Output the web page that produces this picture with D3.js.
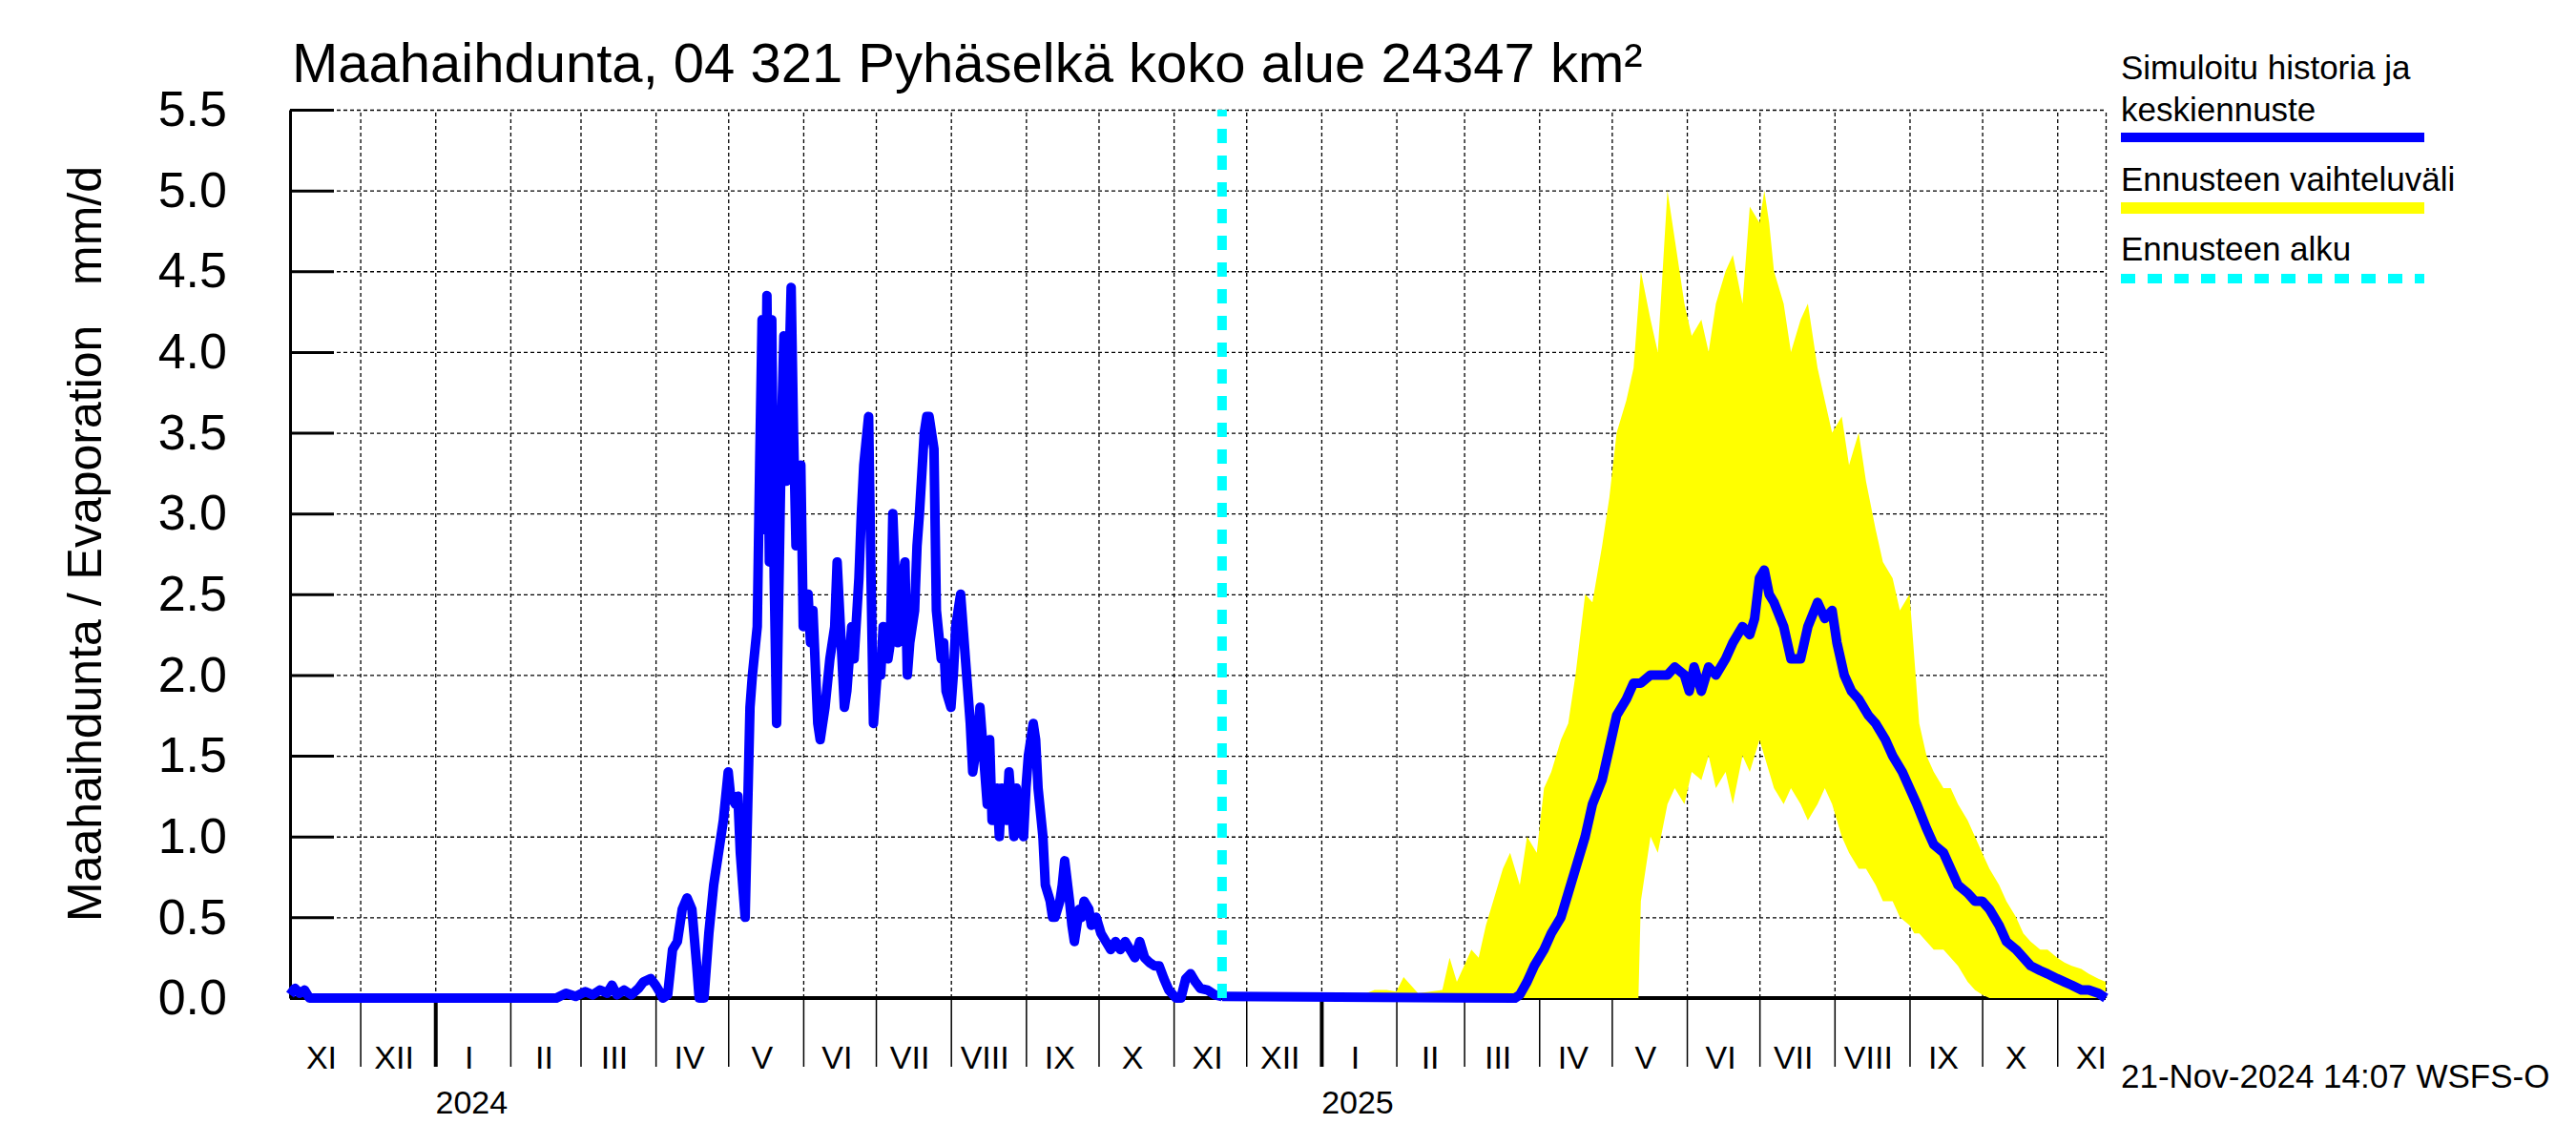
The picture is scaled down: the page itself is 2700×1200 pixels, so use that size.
<!DOCTYPE html>
<html>
<head>
<meta charset="utf-8">
<script src="https://cdn.jsdelivr.net/npm/d3@7"></script>
<style>
  body { margin: 0; background: #fff; }
  text { font-family: "Liberation Sans", Arial, sans-serif; }
</style>
</head>
<body>
<div id="chart"></div>
<script>
/* Data */
const titleText = "Maahaihdunta, 04 321 Pyhäselkä koko alue 24347 km²";
const yLabel = "Maahaihdunta / Evaporation   mm/d";
const stamp = "21-Nov-2024 14:07 WSFS-O";
const romanMonths = ["I", "II", "III", "IV", "V", "VI", "VII", "VIII", "IX", "X", "XI", "XII"];
const yTicks = [0, 0.5, 1, 1.5, 2, 2.5, 3, 3.5, 4, 4.5, 5, 5.5];
const xStart = "2023-11-02", xEnd = "2025-11-21", forecastStart = "2024-11-21";

// simulated history (blue)
const simulated = [
  ["2023-11-02",0.02],["2023-11-04",0.06],["2023-11-06",0.03],["2023-11-08",0.05],["2023-11-10",0.0],
  ["2024-02-20",0.0],["2024-02-24",0.03],["2024-02-28",0.01],["2024-03-03",0.04],["2024-03-06",0.02],
  ["2024-03-09",0.05],["2024-03-12",0.03],["2024-03-14",0.08],["2024-03-16",0.02],["2024-03-19",0.05],
  ["2024-03-22",0.02],["2024-03-25",0.06],["2024-03-27",0.1],["2024-03-30",0.12],["2024-04-01",0.08],
  ["2024-04-03",0.03],["2024-04-04",0.0],["2024-04-06",0.02],["2024-04-08",0.3],["2024-04-10",0.35],
  ["2024-04-12",0.55],["2024-04-14",0.62],["2024-04-16",0.55],["2024-04-18",0.2],["2024-04-19",0.0],
  ["2024-04-21",0.0],["2024-04-23",0.4],["2024-04-25",0.7],["2024-04-27",0.9],["2024-04-29",1.1],
  ["2024-05-01",1.4],["2024-05-02",1.25],["2024-05-04",1.2],["2024-05-05",1.25],["2024-05-06",0.9],
  ["2024-05-08",0.5],["2024-05-10",1.8],["2024-05-11",2.0],["2024-05-13",2.3],["2024-05-14",3.3],
  ["2024-05-15",4.2],["2024-05-16",2.9],["2024-05-17",4.35],["2024-05-18",2.7],["2024-05-19",4.2],
  ["2024-05-20",2.6],["2024-05-21",1.7],["2024-05-23",3.5],["2024-05-24",4.1],["2024-05-25",3.2],
  ["2024-05-27",4.4],["2024-05-28",3.5],["2024-05-29",2.8],["2024-05-31",3.3],["2024-06-01",2.3],
  ["2024-06-03",2.5],["2024-06-04",2.2],["2024-06-05",2.4],["2024-06-07",1.7],["2024-06-08",1.6],
  ["2024-06-10",1.8],["2024-06-12",2.1],["2024-06-14",2.3],["2024-06-15",2.7],["2024-06-17",2.1],
  ["2024-06-18",1.8],["2024-06-19",1.9],["2024-06-21",2.3],["2024-06-22",2.1],["2024-06-24",2.6],
  ["2024-06-25",3.0],["2024-06-26",3.3],["2024-06-28",3.6],["2024-06-29",2.6],["2024-06-30",1.7],
  ["2024-07-02",2.1],["2024-07-03",2.0],["2024-07-04",2.3],["2024-07-06",2.1],["2024-07-07",2.2],
  ["2024-07-08",3.0],["2024-07-10",2.2],["2024-07-11",2.5],["2024-07-13",2.7],["2024-07-14",2.0],
  ["2024-07-15",2.2],["2024-07-17",2.4],["2024-07-18",2.8],["2024-07-19",3.0],["2024-07-21",3.5],
  ["2024-07-22",3.6],["2024-07-23",3.6],["2024-07-25",3.4],["2024-07-26",2.4],["2024-07-28",2.1],
  ["2024-07-29",2.2],["2024-07-30",1.9],["2024-08-01",1.8],["2024-08-02",2.0],["2024-08-03",2.3],
  ["2024-08-05",2.5],["2024-08-06",2.3],["2024-08-07",2.1],["2024-08-09",1.7],["2024-08-10",1.4],
  ["2024-08-12",1.6],["2024-08-13",1.8],["2024-08-14",1.6],["2024-08-16",1.2],["2024-08-17",1.6],
  ["2024-08-18",1.1],["2024-08-20",1.3],["2024-08-21",1.0],["2024-08-22",1.3],["2024-08-24",1.1],
  ["2024-08-25",1.4],["2024-08-27",1.0],["2024-08-28",1.3],["2024-08-29",1.1],["2024-08-31",1.0],
  ["2024-09-01",1.3],["2024-09-02",1.5],["2024-09-04",1.7],["2024-09-05",1.6],["2024-09-06",1.3],
  ["2024-09-08",1.0],["2024-09-09",0.7],["2024-09-11",0.6],["2024-09-12",0.5],["2024-09-13",0.5],
  ["2024-09-15",0.6],["2024-09-16",0.7],["2024-09-17",0.85],["2024-09-19",0.6],["2024-09-20",0.45],
  ["2024-09-21",0.35],["2024-09-23",0.55],["2024-09-24",0.5],["2024-09-25",0.6],["2024-09-27",0.55],
  ["2024-09-28",0.45],["2024-09-30",0.5],["2024-10-02",0.4],["2024-10-04",0.35],["2024-10-06",0.3],
  ["2024-10-08",0.35],["2024-10-10",0.3],["2024-10-12",0.35],["2024-10-14",0.3],["2024-10-16",0.25],
  ["2024-10-18",0.35],["2024-10-20",0.25],["2024-10-22",0.22],["2024-10-24",0.2],["2024-10-26",0.2],
  ["2024-10-28",0.12],["2024-10-30",0.05],["2024-11-02",0.0],["2024-11-04",0.0],["2024-11-06",0.12],
  ["2024-11-08",0.15],["2024-11-10",0.1],["2024-11-12",0.06],["2024-11-15",0.05],["2024-11-18",0.02],
  ["2024-11-21",0.01]
];

// mean forecast (blue)
const forecastMean = [
  ["2024-11-21",0.01],["2025-03-22",0.0],["2025-03-24",0.02],["2025-03-27",0.1],["2025-03-30",0.2],
  ["2025-04-03",0.3],["2025-04-06",0.4],["2025-04-10",0.5],["2025-04-13",0.65],["2025-04-16",0.8],
  ["2025-04-20",1.0],["2025-04-23",1.2],["2025-04-27",1.35],["2025-04-30",1.55],["2025-05-03",1.75],
  ["2025-05-07",1.85],["2025-05-10",1.95],["2025-05-13",1.95],["2025-05-17",2.0],["2025-05-20",2.0],
  ["2025-05-24",2.0],["2025-05-27",2.05],["2025-05-31",2.0],["2025-06-02",1.9],["2025-06-04",2.05],
  ["2025-06-07",1.9],["2025-06-10",2.05],["2025-06-13",2.0],["2025-06-17",2.1],["2025-06-20",2.2],
  ["2025-06-24",2.3],["2025-06-27",2.25],["2025-06-29",2.35],["2025-07-01",2.6],["2025-07-03",2.65],
  ["2025-07-05",2.5],["2025-07-07",2.45],["2025-07-11",2.3],["2025-07-14",2.1],["2025-07-18",2.1],
  ["2025-07-21",2.3],["2025-07-25",2.45],["2025-07-28",2.35],["2025-07-31",2.4],["2025-08-02",2.2],
  ["2025-08-05",2.0],["2025-08-08",1.9],["2025-08-11",1.85],["2025-08-15",1.75],["2025-08-18",1.7],
  ["2025-08-22",1.6],["2025-08-25",1.5],["2025-08-29",1.4],["2025-09-01",1.3],["2025-09-04",1.2],
  ["2025-09-08",1.05],["2025-09-11",0.95],["2025-09-15",0.9],["2025-09-18",0.8],["2025-09-21",0.7],
  ["2025-09-25",0.65],["2025-09-28",0.6],["2025-10-01",0.6],["2025-10-04",0.55],["2025-10-08",0.45],
  ["2025-10-11",0.35],["2025-10-15",0.3],["2025-10-18",0.25],["2025-10-21",0.2],["2025-10-25",0.17],
  ["2025-10-28",0.15],["2025-11-01",0.12],["2025-11-04",0.1],["2025-11-07",0.08],["2025-11-11",0.05],
  ["2025-11-14",0.05],["2025-11-18",0.03],["2025-11-21",0.0]
];

// forecast range (yellow)
const bandDates = [
  "2024-11-21","2024-12-20","2025-01-05","2025-01-10","2025-01-18","2025-01-23","2025-01-28","2025-02-01",
  "2025-02-04","2025-02-07","2025-02-10","2025-02-15","2025-02-20","2025-02-23","2025-02-26","2025-03-01",
  "2025-03-04","2025-03-07","2025-03-10","2025-03-13","2025-03-17","2025-03-20","2025-03-24","2025-03-27",
  "2025-03-31","2025-04-03","2025-04-06","2025-04-10","2025-04-13","2025-04-16","2025-04-20","2025-04-23",
  "2025-04-27","2025-04-30","2025-05-03","2025-05-07","2025-05-10","2025-05-12","2025-05-13","2025-05-17",
  "2025-05-20","2025-05-24","2025-05-27","2025-05-31","2025-06-03","2025-06-07","2025-06-10","2025-06-13",
  "2025-06-17","2025-06-20","2025-06-24","2025-06-27","2025-07-01","2025-07-03","2025-07-05","2025-07-07",
  "2025-07-11","2025-07-14","2025-07-18","2025-07-21","2025-07-25","2025-07-28","2025-07-31","2025-08-04",
  "2025-08-07","2025-08-11","2025-08-14","2025-08-18","2025-08-21","2025-08-25","2025-08-28","2025-09-01",
  "2025-09-03","2025-09-05","2025-09-08","2025-09-11","2025-09-15","2025-09-18","2025-09-21","2025-09-25",
  "2025-09-28","2025-10-01","2025-10-04","2025-10-08","2025-10-11","2025-10-15","2025-10-18","2025-10-21",
  "2025-10-25","2025-10-28","2025-11-01","2025-11-04","2025-11-07","2025-11-11","2025-11-14","2025-11-18",
  "2025-11-21"
];
const bandHigh = [
  0.0, 0.0, 0.0, 0.03, 0.02, 0.05, 0.05, 0.04,
  0.13, 0.08, 0.03, 0.04, 0.05, 0.25, 0.1, 0.2,
  0.3, 0.25, 0.45, 0.6, 0.8, 0.9, 0.7, 1.0,
  0.9, 1.3, 1.4, 1.6, 1.7, 2.0, 2.5, 2.45,
  2.8, 3.1, 3.5, 3.7, 3.9, 4.3, 4.5, 4.2,
  4.0, 5.0, 4.7, 4.3, 4.1, 4.2, 4.0, 4.3,
  4.5, 4.6, 4.3, 4.9, 4.8, 5.0, 4.8, 4.5,
  4.3, 4.0, 4.2, 4.3, 3.9, 3.7, 3.5, 3.6,
  3.3, 3.5, 3.2, 2.9, 2.7, 2.6, 2.4, 2.5,
  2.1, 1.7, 1.5, 1.4, 1.3, 1.3, 1.2, 1.1,
  1.0, 0.9, 0.8, 0.7, 0.6, 0.5, 0.4, 0.35,
  0.3, 0.3, 0.25, 0.22, 0.2, 0.18, 0.15, 0.12,
  0.1
];
const bandLow = [
  0, 0, 0, 0, 0, 0, 0, 0,
  0, 0, 0, 0, 0, 0, 0, 0,
  0, 0, 0, 0, 0, 0, 0, 0,
  0, 0, 0, 0, 0, 0, 0, 0,
  0, 0, 0, 0, 0, 0, 0.6, 1.0,
  0.9, 1.2, 1.3, 1.2, 1.4, 1.35, 1.5, 1.3,
  1.4, 1.2, 1.5, 1.4, 1.6, 1.5, 1.4, 1.3,
  1.2, 1.3, 1.2, 1.1, 1.2, 1.3, 1.2, 1.0,
  0.9, 0.8, 0.8, 0.7, 0.6, 0.6, 0.5, 0.45,
  0.4, 0.4, 0.35, 0.3, 0.3, 0.25, 0.2, 0.1,
  0.05, 0.02, 0, 0, 0, 0, 0, 0,
  0, 0, 0, 0, 0, 0, 0, 0,
  0
];

/* Chart */
const width = 2700, height = 1200;
const plotLeft = 304, plotRight = 2207, plotTop = 115, plotBottom = 1046;
const font = "'Liberation Sans', Arial, sans-serif";
const parse = d3.utcParse("%Y-%m-%d");

const svg = d3.select("#chart").append("svg")
  .attr("width", width)
  .attr("height", height)
  .style("background", "#fff");

const x = d3.scaleUtc().domain([parse(xStart), parse(xEnd)]).range([plotLeft, plotRight]);
const y = d3.scaleLinear().domain([0, 5.5]).range([plotBottom, plotTop]);

const monthStarts = d3.utcMonth.range(d3.utcMonth.ceil(parse(xStart)), parse(xEnd));
const yearStarts = monthStarts.filter(d => d.getUTCMonth() === 0);
const allMonths = d3.utcMonth.range(d3.utcMonth.floor(parse(xStart)), parse(xEnd));

// grid
const gridY = svg.append("g")
  .attr("transform", `translate(${plotLeft},0)`)
  .call(d3.axisLeft(y).tickValues(yTicks).tickSize(-(plotRight - plotLeft)).tickFormat(""));
gridY.select(".domain").remove();
gridY.selectAll("line").attr("stroke", "#000").attr("stroke-width", 1.3).attr("stroke-dasharray", "4,3");

const gridX = svg.append("g")
  .attr("transform", `translate(0,${plotBottom})`)
  .call(d3.axisBottom(x).tickValues(monthStarts.concat([parse(xEnd)])).tickSize(-(plotBottom - plotTop)).tickFormat(""));
gridX.select(".domain").remove();
gridX.selectAll("line").attr("stroke", "#000").attr("stroke-width", 1.3).attr("stroke-dasharray", "4,3");

// month separators below the axis
const sep = svg.append("g")
  .attr("transform", `translate(0,${plotBottom})`)
  .call(d3.axisBottom(x).tickValues(monthStarts).tickSize(72).tickFormat(""));
sep.select(".domain").remove();
sep.selectAll("line").attr("stroke", "#000").attr("stroke-width", 1.5);

const yearSep = svg.append("g")
  .attr("transform", `translate(0,${plotBottom})`)
  .call(d3.axisBottom(x).tickValues(yearStarts).tickSize(72).tickFormat(""));
yearSep.select(".domain").remove();
yearSep.selectAll("line").attr("stroke", "#000").attr("stroke-width", 4);

// month and year labels
svg.append("g").selectAll("text")
  .data(allMonths)
  .enter()
  .append("text")
  .attr("x", d => x(d3.utcDay.offset(d, 14)))
  .attr("y", 1120)
  .attr("text-anchor", "middle")
  .attr("font-family", font)
  .attr("font-size", "34px")
  .text(d => romanMonths[d.getUTCMonth()]);

svg.append("g").selectAll("text")
  .data(yearStarts)
  .enter()
  .append("text")
  .attr("x", d => x(d3.utcDay.offset(d, 15)))
  .attr("y", 1167)
  .attr("text-anchor", "middle")
  .attr("font-family", font)
  .attr("font-size", "34px")
  .text(d => d.getUTCFullYear());

// y axis with inward ticks
const yAxis = svg.append("g")
  .attr("transform", `translate(${plotLeft},0)`)
  .call(d3.axisLeft(y).tickValues(yTicks).tickSize(-46).tickSizeOuter(0).tickPadding(66).tickFormat(d3.format(".1f")));
yAxis.attr("font-family", font).attr("font-size", "52px");
yAxis.select(".domain").attr("stroke-width", 3);
yAxis.selectAll("line").attr("stroke-width", 3);
yAxis.selectAll("text").attr("fill", "#000");

// x axis line
svg.append("line")
  .attr("x1", plotLeft).attr("x2", plotRight)
  .attr("y1", y(0)).attr("y2", y(0))
  .attr("stroke", "#000")
  .attr("stroke-width", 4);

// forecast band
const band = bandDates.map((d, i) => ({ date: parse(d), hi: bandHigh[i], lo: bandLow[i] }));
svg.append("path")
  .datum(band)
  .attr("fill", "#ffff00")
  .attr("d", d3.area().x(d => x(d.date)).y0(d => y(d.lo)).y1(d => y(d.hi)));

// simulated + mean forecast
const blueLine = d3.line().x(d => x(parse(d[0]))).y(d => y(d[1]));
[simulated, forecastMean].forEach(series => {
  svg.append("path")
    .datum(series)
    .attr("fill", "none")
    .attr("stroke", "#0000ff")
    .attr("stroke-width", 10)
    .attr("stroke-linejoin", "round")
    .attr("d", blueLine);
});

// forecast start
svg.append("line")
  .attr("x1", x(parse(forecastStart))).attr("x2", x(parse(forecastStart)))
  .attr("y1", plotBottom).attr("y2", plotTop)
  .attr("stroke", "#00ffff")
  .attr("stroke-width", 10)
  .attr("stroke-dasharray", "15,13");

// title
svg.append("text")
  .attr("x", 306)
  .attr("y", 86)
  .attr("font-family", font)
  .attr("font-size", "58px")
  .text(titleText);

// y label
svg.append("text")
  .attr("transform", "translate(106,570) rotate(-90)")
  .attr("text-anchor", "middle")
  .attr("font-family", font)
  .attr("font-size", "50px")
  .style("white-space", "pre")
  .text(yLabel);

// legend
const legend = svg.append("g").attr("font-family", font).attr("font-size", "35px");
legend.append("text").attr("x", 2223).attr("y", 83).text("Simuloitu historia ja");
legend.append("text").attr("x", 2223).attr("y", 127).text("keskiennuste");
legend.append("line").attr("x1", 2223).attr("x2", 2541).attr("y1", 144).attr("y2", 144)
  .attr("stroke", "#0000ff").attr("stroke-width", 10);
legend.append("text").attr("x", 2223).attr("y", 200).text("Ennusteen vaihteluväli");
legend.append("line").attr("x1", 2223).attr("x2", 2541).attr("y1", 218).attr("y2", 218)
  .attr("stroke", "#ffff00").attr("stroke-width", 12);
legend.append("text").attr("x", 2223).attr("y", 273).text("Ennusteen alku");
legend.append("line").attr("x1", 2223).attr("x2", 2541).attr("y1", 292).attr("y2", 292)
  .attr("stroke", "#00ffff").attr("stroke-width", 10).attr("stroke-dasharray", "15,13");

// timestamp
svg.append("text")
  .attr("x", 2223)
  .attr("y", 1140)
  .attr("font-family", font)
  .attr("font-size", "35px")
  .text(stamp);
</script>
</body>
</html>
